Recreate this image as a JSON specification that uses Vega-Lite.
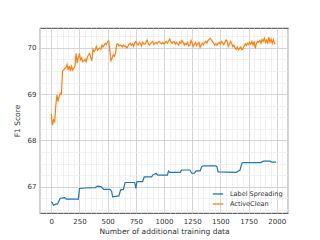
{
  "$schema": "https://vega.github.io/schema/vega-lite/v6.json",
  "width": 248,
  "height": 185,
  "autosize": {"type": "none"},
  "padding": {"left": 40, "top": 28, "right": 32, "bottom": 27},
  "config": {
    "font": "DejaVu Sans",
    "view": {"stroke": "#666", "strokeWidth": 1.2},
    "axis": {"domain": false, "ticks": false, "labelFontSize": 7, "labelColor": "#333", "titleFontSize": 7.5, "titleFontWeight": "normal", "titleColor": "#333"}
  },
  "data": {"values": [
    {"x":0,"y":68.57,"s":"ActiveClean"},{"x":10,"y":68.33,"s":"ActiveClean"},{"x":20,"y":68.44,"s":"ActiveClean"},{"x":30,"y":68.40,"s":"ActiveClean"},{"x":40,"y":68.75,"s":"ActiveClean"},{"x":50,"y":68.98,"s":"ActiveClean"},{"x":60,"y":68.84,"s":"ActiveClean"},{"x":70,"y":68.95,"s":"ActiveClean"},{"x":80,"y":69.02,"s":"ActiveClean"},{"x":90,"y":69.00,"s":"ActiveClean"},
    {"x":100,"y":69.50,"s":"ActiveClean"},{"x":110,"y":69.52,"s":"ActiveClean"},{"x":120,"y":69.56,"s":"ActiveClean"},{"x":130,"y":69.57,"s":"ActiveClean"},{"x":140,"y":69.64,"s":"ActiveClean"},{"x":150,"y":69.52,"s":"ActiveClean"},{"x":160,"y":69.61,"s":"ActiveClean"},{"x":170,"y":69.50,"s":"ActiveClean"},{"x":180,"y":69.60,"s":"ActiveClean"},{"x":190,"y":69.52,"s":"ActiveClean"},
    {"x":200,"y":69.56,"s":"ActiveClean"},{"x":210,"y":69.60,"s":"ActiveClean"},{"x":220,"y":69.88,"s":"ActiveClean"},{"x":230,"y":69.67,"s":"ActiveClean"},{"x":240,"y":69.78,"s":"ActiveClean"},{"x":250,"y":69.88,"s":"ActiveClean"},{"x":260,"y":69.74,"s":"ActiveClean"},{"x":270,"y":69.78,"s":"ActiveClean"},{"x":280,"y":69.70,"s":"ActiveClean"},{"x":290,"y":69.72,"s":"ActiveClean"},
    {"x":300,"y":69.75,"s":"ActiveClean"},{"x":310,"y":69.70,"s":"ActiveClean"},{"x":320,"y":69.80,"s":"ActiveClean"},{"x":330,"y":69.85,"s":"ActiveClean"},{"x":340,"y":69.88,"s":"ActiveClean"},{"x":350,"y":69.80,"s":"ActiveClean"},{"x":360,"y":69.72,"s":"ActiveClean"},{"x":370,"y":69.97,"s":"ActiveClean"},{"x":380,"y":69.92,"s":"ActiveClean"},{"x":390,"y":69.96,"s":"ActiveClean"},
    {"x":400,"y":70.03,"s":"ActiveClean"},{"x":410,"y":69.95,"s":"ActiveClean"},{"x":420,"y":69.98,"s":"ActiveClean"},{"x":430,"y":70.00,"s":"ActiveClean"},{"x":440,"y":69.97,"s":"ActiveClean"},{"x":450,"y":70.06,"s":"ActiveClean"},{"x":460,"y":70.02,"s":"ActiveClean"},{"x":470,"y":70.06,"s":"ActiveClean"},{"x":480,"y":70.10,"s":"ActiveClean"},{"x":490,"y":70.07,"s":"ActiveClean"},
    {"x":500,"y":70.14,"s":"ActiveClean"},{"x":510,"y":70.15,"s":"ActiveClean"},{"x":520,"y":69.92,"s":"ActiveClean"},{"x":530,"y":69.72,"s":"ActiveClean"},{"x":540,"y":69.78,"s":"ActiveClean"},{"x":550,"y":69.85,"s":"ActiveClean"},{"x":560,"y":69.82,"s":"ActiveClean"},{"x":570,"y":69.88,"s":"ActiveClean"},{"x":580,"y":70.08,"s":"ActiveClean"},{"x":590,"y":70.09,"s":"ActiveClean"},
    {"x":600,"y":70.04,"s":"ActiveClean"},{"x":610,"y":70.06,"s":"ActiveClean"},{"x":620,"y":70.05,"s":"ActiveClean"},{"x":630,"y":70.02,"s":"ActiveClean"},{"x":640,"y":70.06,"s":"ActiveClean"},{"x":650,"y":70.03,"s":"ActiveClean"},{"x":660,"y":70.04,"s":"ActiveClean"},{"x":670,"y":70.00,"s":"ActiveClean"},{"x":680,"y":70.03,"s":"ActiveClean"},{"x":690,"y":70.08,"s":"ActiveClean"},
    {"x":700,"y":70.10,"s":"ActiveClean"},{"x":710,"y":70.06,"s":"ActiveClean"},{"x":720,"y":70.09,"s":"ActiveClean"},{"x":730,"y":70.03,"s":"ActiveClean"},{"x":740,"y":70.11,"s":"ActiveClean"},{"x":750,"y":70.14,"s":"ActiveClean"},{"x":760,"y":70.08,"s":"ActiveClean"},{"x":770,"y":70.06,"s":"ActiveClean"},{"x":780,"y":70.12,"s":"ActiveClean"},{"x":790,"y":70.10,"s":"ActiveClean"},
    {"x":800,"y":70.04,"s":"ActiveClean"},{"x":810,"y":70.12,"s":"ActiveClean"},{"x":820,"y":70.09,"s":"ActiveClean"},{"x":830,"y":70.08,"s":"ActiveClean"},{"x":840,"y":70.12,"s":"ActiveClean"},{"x":850,"y":70.17,"s":"ActiveClean"},{"x":860,"y":70.10,"s":"ActiveClean"},{"x":870,"y":70.06,"s":"ActiveClean"},{"x":880,"y":70.09,"s":"ActiveClean"},{"x":890,"y":70.12,"s":"ActiveClean"},
    {"x":900,"y":70.14,"s":"ActiveClean"},{"x":910,"y":70.07,"s":"ActiveClean"},{"x":920,"y":70.10,"s":"ActiveClean"},{"x":930,"y":70.12,"s":"ActiveClean"},{"x":940,"y":70.09,"s":"ActiveClean"},{"x":950,"y":70.13,"s":"ActiveClean"},{"x":960,"y":70.14,"s":"ActiveClean"},{"x":970,"y":70.10,"s":"ActiveClean"},{"x":980,"y":70.09,"s":"ActiveClean"},{"x":990,"y":70.12,"s":"ActiveClean"},
    {"x":1000,"y":70.08,"s":"ActiveClean"},{"x":1010,"y":70.12,"s":"ActiveClean"},{"x":1020,"y":70.14,"s":"ActiveClean"},{"x":1030,"y":70.10,"s":"ActiveClean"},{"x":1040,"y":70.15,"s":"ActiveClean"},{"x":1050,"y":70.19,"s":"ActiveClean"},{"x":1060,"y":70.14,"s":"ActiveClean"},{"x":1070,"y":70.10,"s":"ActiveClean"},{"x":1080,"y":70.12,"s":"ActiveClean"},{"x":1090,"y":70.14,"s":"ActiveClean"},
    {"x":1100,"y":70.08,"s":"ActiveClean"},{"x":1110,"y":70.12,"s":"ActiveClean"},{"x":1120,"y":70.09,"s":"ActiveClean"},{"x":1130,"y":70.06,"s":"ActiveClean"},{"x":1140,"y":70.13,"s":"ActiveClean"},{"x":1150,"y":70.10,"s":"ActiveClean"},{"x":1160,"y":70.16,"s":"ActiveClean"},{"x":1170,"y":70.12,"s":"ActiveClean"},{"x":1180,"y":70.06,"s":"ActiveClean"},{"x":1190,"y":70.10,"s":"ActiveClean"},
    {"x":1200,"y":70.07,"s":"ActiveClean"},{"x":1210,"y":70.12,"s":"ActiveClean"},{"x":1220,"y":70.04,"s":"ActiveClean"},{"x":1230,"y":70.06,"s":"ActiveClean"},{"x":1240,"y":70.16,"s":"ActiveClean"},{"x":1250,"y":70.10,"s":"ActiveClean"},{"x":1260,"y":70.03,"s":"ActiveClean"},{"x":1270,"y":70.08,"s":"ActiveClean"},{"x":1280,"y":70.12,"s":"ActiveClean"},{"x":1290,"y":70.05,"s":"ActiveClean"},
    {"x":1300,"y":70.10,"s":"ActiveClean"},{"x":1310,"y":70.12,"s":"ActiveClean"},{"x":1320,"y":70.01,"s":"ActiveClean"},{"x":1330,"y":70.06,"s":"ActiveClean"},{"x":1340,"y":70.10,"s":"ActiveClean"},{"x":1350,"y":70.07,"s":"ActiveClean"},{"x":1360,"y":70.12,"s":"ActiveClean"},{"x":1370,"y":70.14,"s":"ActiveClean"},{"x":1380,"y":70.10,"s":"ActiveClean"},{"x":1390,"y":70.16,"s":"ActiveClean"},
    {"x":1400,"y":70.18,"s":"ActiveClean"},{"x":1410,"y":70.21,"s":"ActiveClean"},{"x":1420,"y":70.17,"s":"ActiveClean"},{"x":1430,"y":70.14,"s":"ActiveClean"},{"x":1440,"y":70.10,"s":"ActiveClean"},{"x":1450,"y":70.06,"s":"ActiveClean"},{"x":1460,"y":70.09,"s":"ActiveClean"},{"x":1470,"y":70.06,"s":"ActiveClean"},{"x":1480,"y":70.10,"s":"ActiveClean"},{"x":1490,"y":70.12,"s":"ActiveClean"},
    {"x":1500,"y":70.08,"s":"ActiveClean"},{"x":1510,"y":70.14,"s":"ActiveClean"},{"x":1520,"y":70.11,"s":"ActiveClean"},{"x":1530,"y":70.07,"s":"ActiveClean"},{"x":1540,"y":70.12,"s":"ActiveClean"},{"x":1550,"y":70.17,"s":"ActiveClean"},{"x":1560,"y":70.15,"s":"ActiveClean"},{"x":1570,"y":70.03,"s":"ActiveClean"},{"x":1580,"y":70.08,"s":"ActiveClean"},{"x":1590,"y":70.14,"s":"ActiveClean"},
    {"x":1600,"y":70.10,"s":"ActiveClean"},{"x":1610,"y":70.03,"s":"ActiveClean"},{"x":1620,"y":70.06,"s":"ActiveClean"},{"x":1630,"y":70.00,"s":"ActiveClean"},{"x":1640,"y":69.97,"s":"ActiveClean"},{"x":1650,"y":70.02,"s":"ActiveClean"},{"x":1660,"y":69.96,"s":"ActiveClean"},{"x":1670,"y":69.99,"s":"ActiveClean"},{"x":1680,"y":70.02,"s":"ActiveClean"},{"x":1690,"y":69.96,"s":"ActiveClean"},
    {"x":1700,"y":69.98,"s":"ActiveClean"},{"x":1710,"y":70.04,"s":"ActiveClean"},{"x":1720,"y":70.09,"s":"ActiveClean"},{"x":1730,"y":70.05,"s":"ActiveClean"},{"x":1740,"y":70.10,"s":"ActiveClean"},{"x":1750,"y":70.07,"s":"ActiveClean"},{"x":1760,"y":70.12,"s":"ActiveClean"},{"x":1770,"y":70.08,"s":"ActiveClean"},{"x":1780,"y":70.14,"s":"ActiveClean"},{"x":1790,"y":70.06,"s":"ActiveClean"},
    {"x":1800,"y":70.14,"s":"ActiveClean"},{"x":1810,"y":69.99,"s":"ActiveClean"},{"x":1820,"y":70.10,"s":"ActiveClean"},{"x":1830,"y":70.14,"s":"ActiveClean"},{"x":1840,"y":70.12,"s":"ActiveClean"},{"x":1850,"y":70.16,"s":"ActiveClean"},{"x":1860,"y":70.10,"s":"ActiveClean"},{"x":1870,"y":70.18,"s":"ActiveClean"},{"x":1880,"y":70.14,"s":"ActiveClean"},{"x":1890,"y":70.21,"s":"ActiveClean"},
    {"x":1900,"y":70.12,"s":"ActiveClean"},{"x":1910,"y":70.17,"s":"ActiveClean"},{"x":1920,"y":70.09,"s":"ActiveClean"},{"x":1930,"y":70.23,"s":"ActiveClean"},{"x":1940,"y":70.12,"s":"ActiveClean"},{"x":1950,"y":70.19,"s":"ActiveClean"},{"x":1960,"y":70.10,"s":"ActiveClean"},{"x":1970,"y":70.18,"s":"ActiveClean"},{"x":1980,"y":70.09,"s":"ActiveClean"},{"x":1990,"y":70.09,"s":"ActiveClean"},
    {"x":0,"y":66.67,"s":"Label Spreading"},{"x":10,"y":66.65,"s":"Label Spreading"},{"x":20,"y":66.60,"s":"Label Spreading"},{"x":40,"y":66.62,"s":"Label Spreading"},{"x":55,"y":66.62,"s":"Label Spreading"},{"x":70,"y":66.70,"s":"Label Spreading"},{"x":80,"y":66.75,"s":"Label Spreading"},{"x":120,"y":66.76,"s":"Label Spreading"},{"x":135,"y":66.73,"s":"Label Spreading"},{"x":240,"y":66.73,"s":"Label Spreading"},
    {"x":250,"y":66.96,"s":"Label Spreading"},{"x":300,"y":66.97,"s":"Label Spreading"},{"x":390,"y":66.98,"s":"Label Spreading"},{"x":410,"y":67.01,"s":"Label Spreading"},{"x":440,"y":67.00,"s":"Label Spreading"},{"x":465,"y":66.94,"s":"Label Spreading"},{"x":520,"y":66.94,"s":"Label Spreading"},{"x":535,"y":66.90,"s":"Label Spreading"},{"x":545,"y":66.78,"s":"Label Spreading"},{"x":600,"y":66.80,"s":"Label Spreading"},
    {"x":615,"y":66.93,"s":"Label Spreading"},{"x":640,"y":66.94,"s":"Label Spreading"},{"x":655,"y":67.09,"s":"Label Spreading"},{"x":740,"y":67.09,"s":"Label Spreading"},{"x":750,"y":66.96,"s":"Label Spreading"},{"x":760,"y":67.11,"s":"Label Spreading"},{"x":810,"y":67.11,"s":"Label Spreading"},{"x":825,"y":67.21,"s":"Label Spreading"},{"x":890,"y":67.21,"s":"Label Spreading"},{"x":900,"y":67.25,"s":"Label Spreading"},
    {"x":930,"y":67.29,"s":"Label Spreading"},{"x":945,"y":67.25,"s":"Label Spreading"},{"x":1030,"y":67.25,"s":"Label Spreading"},{"x":1040,"y":67.34,"s":"Label Spreading"},{"x":1050,"y":67.31,"s":"Label Spreading"},{"x":1145,"y":67.31,"s":"Label Spreading"},{"x":1155,"y":67.36,"s":"Label Spreading"},{"x":1230,"y":67.36,"s":"Label Spreading"},{"x":1245,"y":67.29,"s":"Label Spreading"},{"x":1270,"y":67.29,"s":"Label Spreading"},
    {"x":1285,"y":67.34,"s":"Label Spreading"},{"x":1320,"y":67.34,"s":"Label Spreading"},{"x":1335,"y":67.43,"s":"Label Spreading"},{"x":1350,"y":67.45,"s":"Label Spreading"},{"x":1460,"y":67.45,"s":"Label Spreading"},{"x":1470,"y":67.43,"s":"Label Spreading"},{"x":1480,"y":67.32,"s":"Label Spreading"},{"x":1640,"y":67.31,"s":"Label Spreading"},{"x":1660,"y":67.34,"s":"Label Spreading"},{"x":1675,"y":67.36,"s":"Label Spreading"},
    {"x":1690,"y":67.50,"s":"Label Spreading"},{"x":1700,"y":67.52,"s":"Label Spreading"},{"x":1860,"y":67.52,"s":"Label Spreading"},{"x":1880,"y":67.55,"s":"Label Spreading"},{"x":1940,"y":67.55,"s":"Label Spreading"},{"x":1955,"y":67.53,"s":"Label Spreading"},{"x":1995,"y":67.53,"s":"Label Spreading"}
  ]},
  "mark": {"type": "line", "strokeWidth": 1.2},
  "encoding": {
    "x": {
      "field": "x", "type": "quantitative",
      "scale": {"domain": [-100, 2100], "nice": false, "zero": false},
      "axis": {
        "title": "Number of additional training data",
        "values": [-100,-50,0,50,100,150,200,250,300,350,400,450,500,550,600,650,700,750,800,850,900,950,1000,1050,1100,1150,1200,1250,1300,1350,1400,1450,1500,1550,1600,1650,1700,1750,1800,1850,1900,1950,2000,2050,2100],
        "labelExpr": "datum.value % 250 === 0 ? format(datum.value, 'd') : ''",
        "gridColor": {"condition": {"test": "datum.value % 250 === 0", "value": "#d4d4d4"}, "value": "#ededed"},
        "gridWidth": {"condition": {"test": "datum.value % 250 === 0", "value": 1}, "value": 0.8},
        "labelPadding": 4,
        "titlePadding": 3,
        "labelFlush": false
      }
    },
    "y": {
      "field": "y", "type": "quantitative",
      "scale": {"domain": [66.43, 70.43], "nice": false, "zero": false},
      "axis": {
        "title": "F1 Score",
        "values": [66.5,66.75,67,67.25,67.5,67.75,68,68.25,68.5,68.75,69,69.25,69.5,69.75,70,70.25],
        "labelExpr": "datum.value % 1 === 0 ? format(datum.value, 'd') : ''",
        "gridColor": {"condition": {"test": "datum.value % 1 === 0", "value": "#d4d4d4"}, "value": "#ededed"},
        "gridWidth": {"condition": {"test": "datum.value % 1 === 0", "value": 1}, "value": 0.8},
        "labelPadding": 4,
        "titlePadding": 6,
        "labelFlush": false
      }
    },
    "color": {
      "field": "s", "type": "nominal",
      "scale": {"domain": ["Label Spreading", "ActiveClean"], "range": ["#1f77b4", "#ff7f0e"]},
      "legend": {
        "title": null,
        "orient": "bottom-right",
        "offset": 5,
        "symbolType": "stroke",
        "symbolSize": 110,
        "symbolStrokeWidth": 1.3,
        "labelFontSize": 6.5,
        "labelColor": "#333",
        "labelOffset": 6,
        "rowPadding": 0
      }
    }
  }
}
